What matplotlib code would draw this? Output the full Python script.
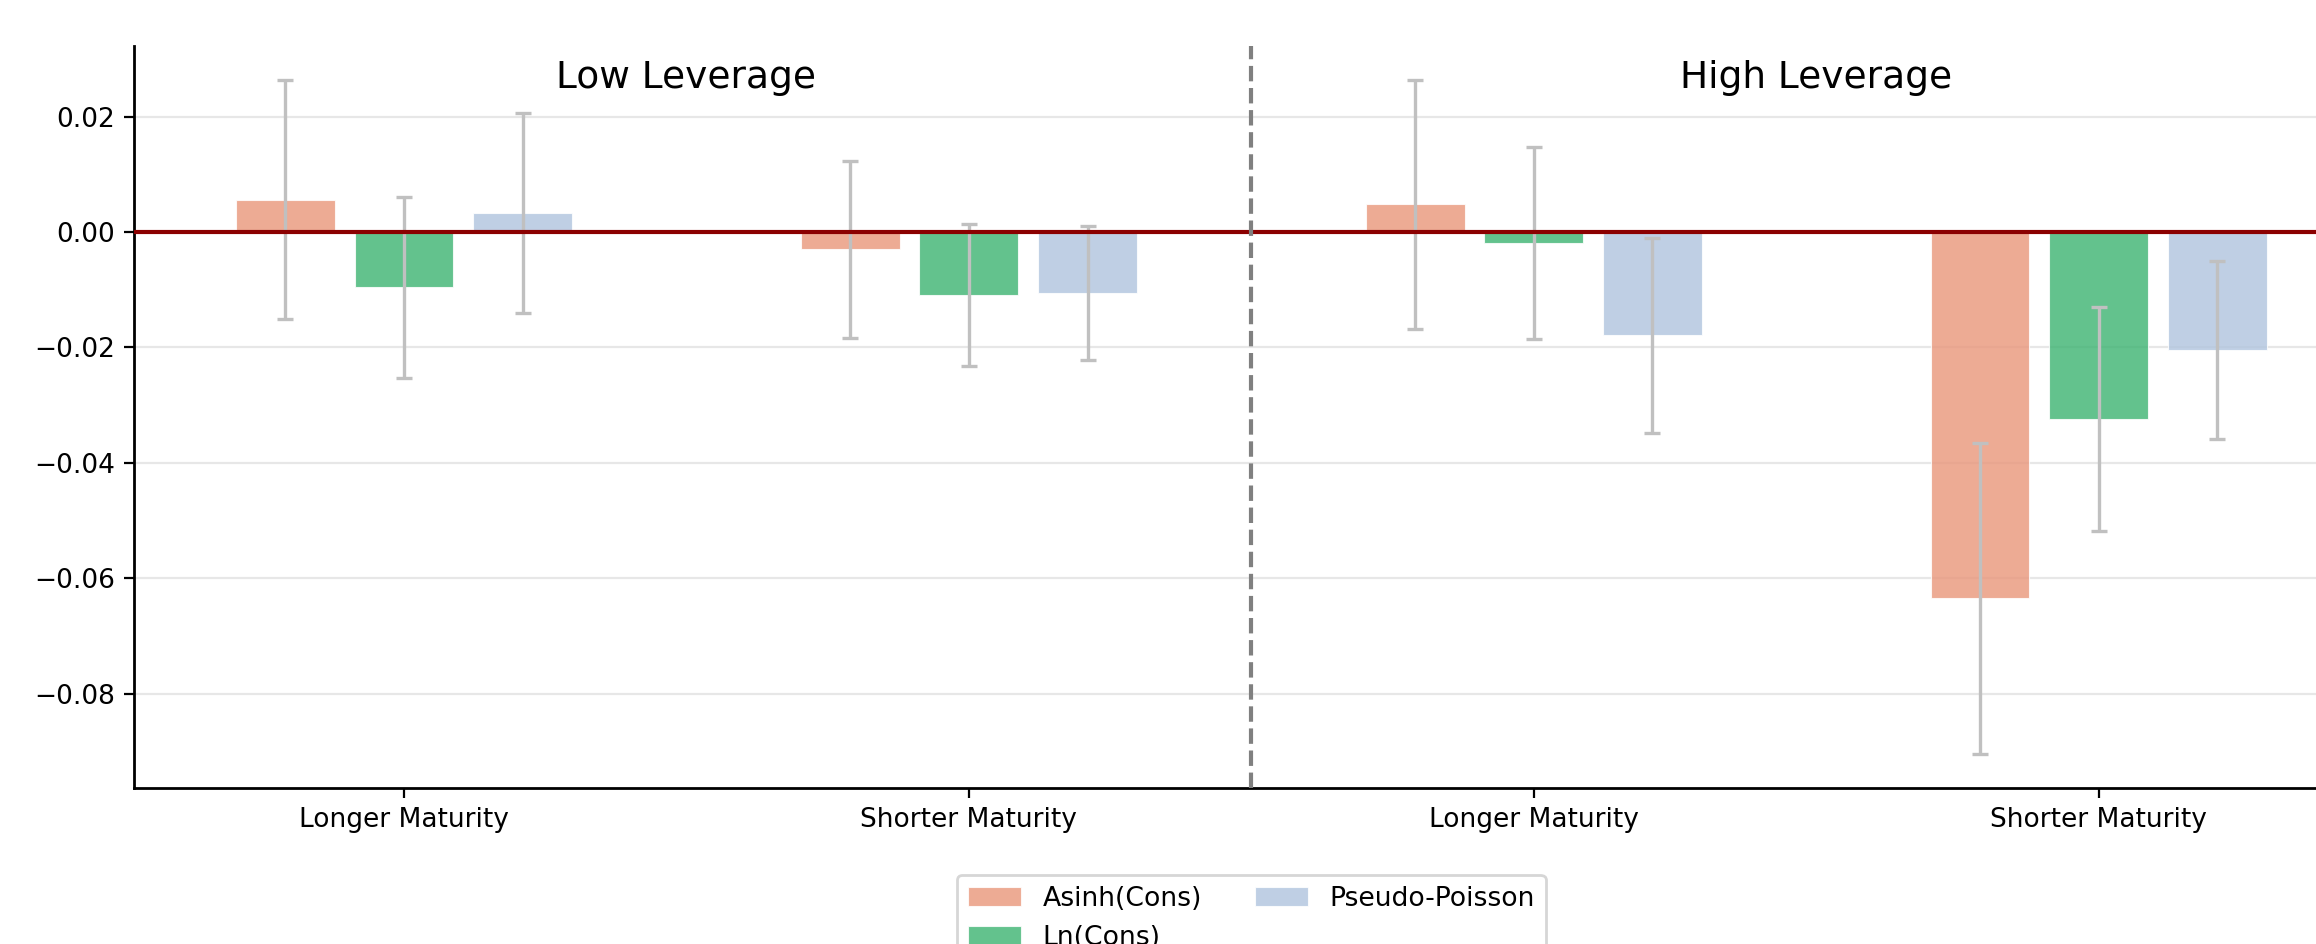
import numpy as np
import matplotlib
matplotlib.use("Agg")
import matplotlib.pyplot as plt

# ---- data ----
categories = ["Longer Maturity", "Shorter Maturity", "Longer Maturity", "Shorter Maturity"]
panel_titles = ["Low Leverage", "High Leverage"]
series_names = ["Asinh(Cons)", "Ln(Cons)", "Pseudo-Poisson"]

asinh_coef = [0.0056, -0.0030, 0.0048, -0.0635]
asinh_err = [0.0207, 0.0153, 0.0216, 0.0270]
ln_coef = [-0.0096, -0.0109, -0.0019, -0.0324]
ln_err = [0.0157, 0.0123, 0.0167, 0.0194]
pp_coef = [0.0033, -0.0106, -0.0179, -0.0204]
pp_err = [0.0173, 0.0116, 0.0169, 0.0154]

colors = ["darksalmon", "mediumseagreen", "lightsteelblue"]

# ---- figure ----
DPI = 200
fig = plt.figure(figsize=(2316 / DPI, 944 / DPI), dpi=DPI)
ax = fig.add_axes([0.05799, 0.16557, 0.96464, 0.78602])

x = np.arange(len(categories))
width = 0.175
step = 0.21
coefs = [asinh_coef, ln_coef, pp_coef]
errs = [asinh_err, ln_err, pp_err]

for i, (c, e, col, name) in enumerate(zip(coefs, errs, colors, series_names)):
    pos = x + (i - 1) * step
    ax.bar(pos, c, width, color=col, alpha=0.8, edgecolor="white", linewidth=0.4,
           label=name, zorder=2)
    ax.errorbar(pos, c, yerr=e, fmt="none", ecolor="#c0c0c0", elinewidth=1.2,
                capsize=3, capthick=1.2, zorder=2.5)

ax.axhline(0, color="darkred", linewidth=1.5, zorder=3)
ax.axvline(1.5, color="gray", linestyle="--", linewidth=1.5, zorder=3)

ax.set_xlim(-0.4775, 3.4775)
ax.set_ylim(-0.0963, 0.0323)
ax.set_xticks(x)
ax.set_xticklabels(categories)
ax.set_yticks([0.02, 0.0, -0.02, -0.04, -0.06, -0.08])
ax.tick_params(axis="both", labelsize=9.5)

ax.yaxis.grid(True, color="#b0b0b0", alpha=0.3, linewidth=0.8)
ax.set_axisbelow(True)
for s in ["top", "right"]:
    ax.spines[s].set_visible(False)
for s in ["left", "bottom"]:
    ax.spines[s].set_linewidth(1.0)

ax.text(0.5, 0.957, panel_titles[0], transform=ax.get_xaxis_transform(),
        ha="center", va="center", fontsize=13.5)
ax.text(2.5, 0.957, panel_titles[1], transform=ax.get_xaxis_transform(),
        ha="center", va="center", fontsize=13.5)

ax.legend(loc="upper center", bbox_to_anchor=(0.5, -0.0996), ncol=2, fontsize=9.6)

fig.savefig("out.png", dpi=DPI)
